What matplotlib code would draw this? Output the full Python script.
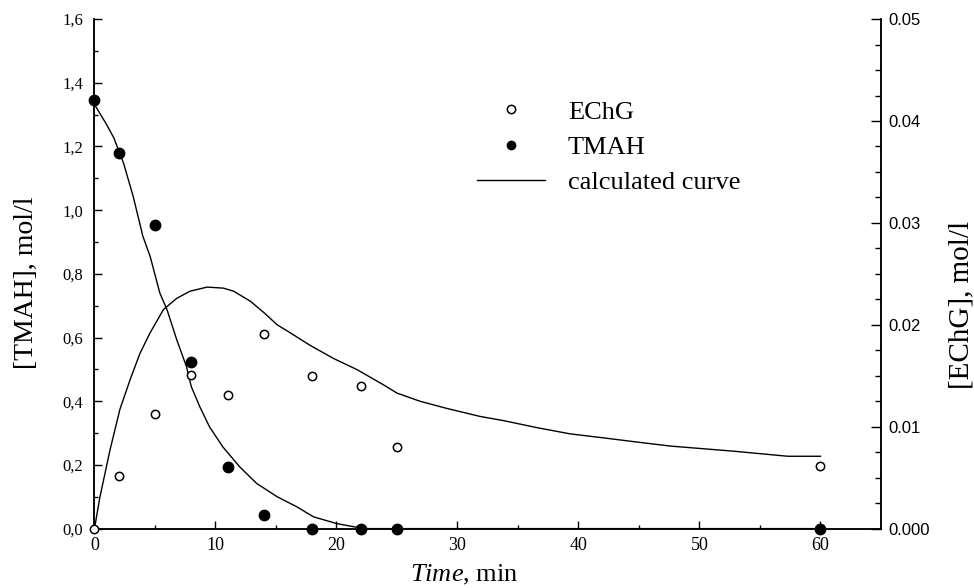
import matplotlib
matplotlib.use("Agg")
import matplotlib.pyplot as plt
from matplotlib.lines import Line2D
from matplotlib.ticker import MultipleLocator, FuncFormatter, FixedLocator

plt.rcParams['font.family'] = ['Liberation Serif', 'DejaVu Serif']
plt.rcParams['mathtext.fontset'] = 'custom'
plt.rcParams['mathtext.rm'] = 'Liberation Serif'
plt.rcParams['mathtext.it'] = 'Liberation Serif:italic'

# measured points
time_pts = [0, 2, 5, 8, 11, 14, 18, 22, 25, 60]
tmah = [1.345, 1.18, 0.952, 0.523, 0.194, 0.042, 0.0, 0.0, 0.0, 0.0]        # mol/l
echg = [0.0, 0.0052, 0.0112, 0.0151, 0.0131, 0.0191, 0.0150, 0.0140, 0.0080, 0.0061]  # mol/l

# calculated curve, TMAH (left axis)
tmah_calc_t = [0, 1.0, 1.6, 2.4, 3.2, 4.0, 4.6, 5.4, 6.0, 6.8, 7.6, 8.0, 8.7, 9.5,
               10.6, 12.0, 13.4, 15.1, 16.7, 18.1, 20.0, 21.4, 22.5, 30, 40, 50, 60]
tmah_calc = [1.332, 1.269, 1.227, 1.148, 1.043, 0.918, 0.855, 0.74, 0.687, 0.593, 0.509,
             0.446, 0.383, 0.32, 0.257, 0.194, 0.142, 0.1, 0.069, 0.037, 0.016, 0.006,
             0.0, 0.0, 0.0, 0.0, 0.0]

# calculated curve, EChG (right axis)
echg_calc_t = [0, 0.45, 1.28, 2.1, 2.94, 3.76, 4.59, 5.7, 6.8, 7.9, 9.3, 10.65, 11.5, 12.9,
               14.0, 15.1, 16.2, 17.8, 19.75, 21.7, 23.9, 25.0, 26.9, 29.1, 31.9, 33.8,
               36.6, 39.3, 42.1, 44.8, 47.6, 52.8, 57.3, 60]
echg_calc = [0.0, 0.0031, 0.0077, 0.0117, 0.0146, 0.0172, 0.0192, 0.0215, 0.0226, 0.0233,
             0.0237, 0.0236, 0.0233, 0.0223, 0.0212, 0.0200, 0.0192, 0.0180, 0.0167, 0.0156,
             0.0141, 0.0133, 0.0125, 0.0118, 0.0110, 0.0106, 0.0099, 0.0093, 0.0089, 0.0085,
             0.0081, 0.0076, 0.0071, 0.0071]

right_ticks = [0.0, 0.01, 0.02, 0.03, 0.04, 0.05]
right_labels = ['0.000', '0.01', '0.02', '0.03', '0.04', '0.05']

fig = plt.figure(figsize=(9.74, 5.88), dpi=100)
ax = fig.add_axes([0.097, 0.101, 0.8075, 0.8665])
ax2 = ax.twinx()

ax.plot(tmah_calc_t, tmah_calc, color='black', lw=1.0, clip_on=False, zorder=3)
ax.plot(time_pts, tmah, 'o', color='black', ms=7.5, clip_on=False, zorder=4)
ax2.plot(echg_calc_t, echg_calc, color='black', lw=1.0, clip_on=False, zorder=3)
ax2.plot(time_pts, echg, 'o', mfc='white', mec='black', mew=1.1, ms=6, clip_on=False, zorder=4)

ax.set_xlim(0, 65)
ax.set_ylim(0, 1.6)
ax2.set_ylim(0, 0.05)

for a in (ax, ax2):
    a.spines['top'].set_visible(False)
    for s in a.spines.values():
        s.set_linewidth(1.1)

ax.xaxis.set_major_locator(FixedLocator([0, 10, 20, 30, 40, 50, 60]))
ax.xaxis.set_minor_locator(FixedLocator([5, 15, 25, 35, 45, 55]))
ax.yaxis.set_major_locator(MultipleLocator(0.2))
ax.yaxis.set_minor_locator(MultipleLocator(0.1))
ax.yaxis.set_major_formatter(FuncFormatter(lambda v, p: f"{v:.1f}".replace('.', ',')))
ax2.yaxis.set_major_locator(FixedLocator(right_ticks))
ax2.set_yticklabels(right_labels, family='Liberation Sans', fontsize=12)
ax2.yaxis.set_minor_locator(MultipleLocator(0.0025))

ax.tick_params(axis='x', which='both', direction='in', top=False, labelsize=13, pad=6)
ax.tick_params(axis='y', which='both', direction='in', right=False, labelsize=12, pad=8)
ax.tick_params(which='major', length=6, width=1)
ax.tick_params(which='minor', length=3, width=1)
ax2.tick_params(axis='y', which='both', direction='in', pad=5)
ax2.tick_params(which='major', length=7, width=1)
ax2.tick_params(which='minor', length=4, width=1)

fig.text(0.027, 0.519, '[TMAH], mol/l', rotation=90, ha='center', va='center', fontsize=20)
fig.text(0.987, 0.481, '[EChG], mol/l', rotation=90, ha='center', va='center', fontsize=21)
fig.text(0.477, 0.022, r'$\mathit{Time}$, min', ha='center', va='center', fontsize=19)

handles = [
    Line2D([], [], ls='none', marker='o', mfc='white', mec='black', mew=1.1, ms=6),
    Line2D([], [], ls='none', marker='o', color='black', ms=6),
    Line2D([], [], color='black', lw=1.0),
]
ax.legend(handles, ['EChG', 'TMAH', 'calculated curve'], loc='upper left',
          bbox_to_anchor=(0.486, 0.841), frameon=False, fontsize=19,
          handlelength=2.6, handletextpad=0.85, borderpad=0, borderaxespad=0,
          labelspacing=0.45)

fig.savefig('out.png', dpi=100)
